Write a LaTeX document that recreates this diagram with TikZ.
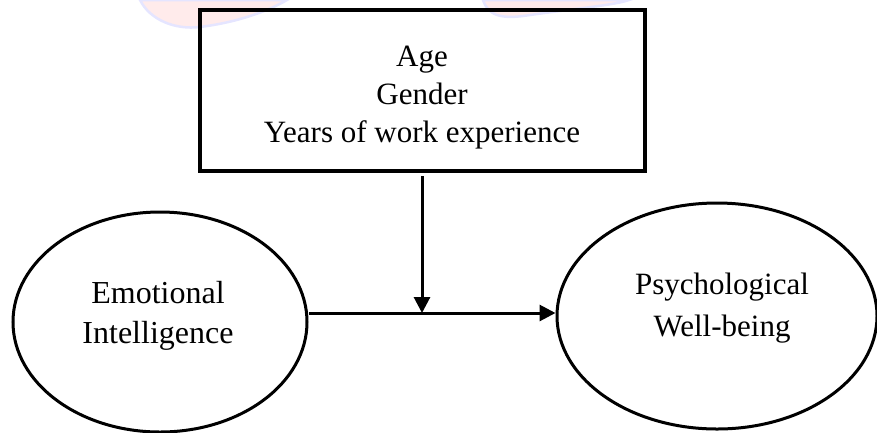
\documentclass[tikz,border=0pt]{standalone}
\usepackage{fontspec}
\setmainfont{Liberation Serif}
\usetikzlibrary{arrows.meta,shapes.geometric}
\begin{document}
\begin{tikzpicture}[x=1pt,y=-1pt,
  txt/.style={font=\fontsize{31}{40}\selectfont, align=center, inner sep=0pt},
  ell/.style={draw, ellipse, line width=3pt, inner sep=0pt},
  boxst/.style={draw, rectangle, line width=4pt, minimum width=445pt, minimum height=161pt, inner sep=0pt},
  arr/.style={line width=3pt, -{Triangle[length=16pt,width=16pt]}},
  wm/.style={fill=red!8, draw=blue!10, line width=2.5pt}]
\useasboundingbox (0,0) rectangle (877,432);
% faint watermark
\path[wm] (140,0) .. controls (150,20) and (175,30) .. (200,27) .. controls (240,22) and (270,10) .. (287,0) -- cycle;
\path[wm] (483,0) .. controls (488,15) and (500,20) .. (530,15) .. controls (580,8) and (615,5) .. (629,0) -- cycle;
% nodes
\node[boxst] (mod) at (422,90.5) {};
\node[txt, font=\fontsize{31}{38}\selectfont] (modt) at (422,98) {Age\\Gender\\Years of work experience};
\node[ell, minimum width=294pt, minimum height=220pt] (ei) at (160,322) {};
\node[txt, font=\fontsize{32}{40}\selectfont] (eit) at (158,315.5) {Emotional\\Intelligence};
\node[ell, minimum width=320pt, minimum height=226pt] (pwb) at (717,316) {};
\node[txt, font=\fontsize{31}{42}\selectfont] (pwbt) at (722,308.5) {Psychological\\Well-being};
% connectors
\coordinate (j) at (422,313);
\draw[arr] (j -| ei.east) -- (j -| pwb.west);
\draw[arr] ([yshift=-3pt]mod.south) -- (j);
\end{tikzpicture}
\end{document}
